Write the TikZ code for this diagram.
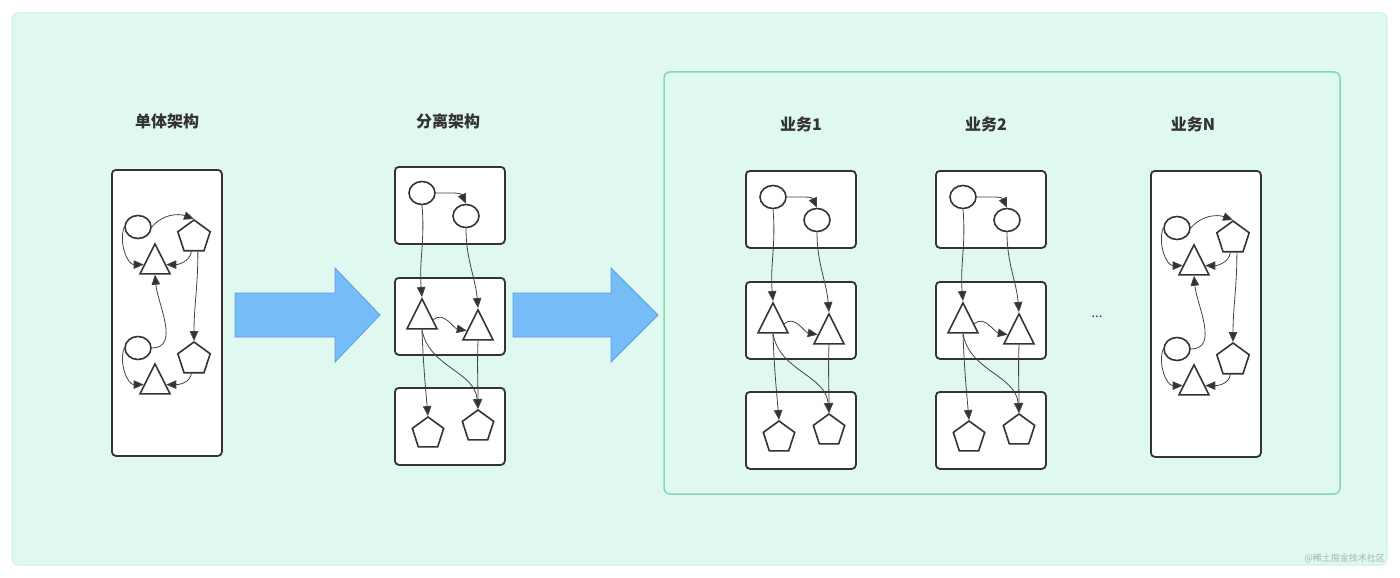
\documentclass[tikz,border=0pt]{standalone}
\usepackage{fontspec}
\newfontfamily\cjk{Noto Sans CJK SC}
\usetikzlibrary{shapes.geometric,arrows.meta}
\definecolor{bgfill}{HTML}{DFF8F0}
\definecolor{bgline}{HTML}{CDF1E3}
\definecolor{grn}{HTML}{86D6AE}
\definecolor{ink}{HTML}{333333}
\definecolor{linec}{HTML}{444444}
\definecolor{bluef}{HTML}{76BCF6}
\definecolor{blued}{HTML}{5A9FE6}
\definecolor{wm}{HTML}{A9B3AF}
\tikzset{
  box/.style={draw=ink, line width=1.8pt, rounded corners=4pt, fill=white, inner sep=0pt, anchor=north west},
  ell/.style={draw=ink, line width=1.6pt, ellipse, minimum width=26pt, minimum height=23pt, inner sep=0pt},
  tri/.style={draw=ink, line width=1.6pt, isosceles triangle, isosceles triangle apex angle=50,
              isosceles triangle stretches, shape border rotate=90, minimum width=30pt, minimum height=30pt,
              inner sep=0pt, anchor=apex},
  pent/.style={draw=ink, line width=1.6pt, regular polygon, regular polygon sides=5, minimum size=34pt,
               inner sep=0pt, anchor=corner 1},
  conn/.style={draw=linec, line width=0.8pt, -{Triangle[length=10pt,width=8.5pt,fill=ink]}},
  lbl/.style={text=ink, font=\cjk\bfseries\fontsize{16}{18}\selectfont, inner sep=0pt},
  mono/.pic={
    \node[box, minimum width=110pt, minimum height=286pt] (-box) at (0,0) {};
    \node[ell] (-c1) at (27,58) {};
    \node[pent] (-p1) at (83,50) {};
    \node[tri] (-t1) at (44,73) {};
    \node[ell] (-c2) at (27,179) {};
    \node[pent] (-p2) at (83,172) {};
    \node[tri] (-t2) at (44,193) {};
    \draw[conn] (-c1.east) to[out=50,in=160] (-p1.corner 1);
    \draw[conn] (-c1.west) to[out=-110,in=180] (-t1.west);
    \draw[conn] (-p1.-100) to[out=-100,in=0] (-t1.east);
    \draw[conn] (-p1.-75) to[out=-90,in=90] (-p2.corner 1);
    \draw[conn] (-c2.east) to[out=0,in=-85] (-t1.south);
    \draw[conn] (-c2.west) to[out=-110,in=180] (-t2.west);
    \draw[conn] (-p2.-100) to[out=-100,in=0] (-t2.east);
  },
  sep/.pic={
    \node[box, minimum width=110pt, minimum height=77pt] (-b1) at (0,0) {};
    \node[box, minimum width=110pt, minimum height=77pt] (-b2) at (0,111) {};
    \node[box, minimum width=110pt, minimum height=77pt] (-b3) at (0,221) {};
    \node[ell] (-c1) at (28,27) {};
    \node[ell] (-c2) at (72,50) {};
    \node[tri] (-t1) at (28,131) {};
    \node[tri] (-t2) at (84,142) {};
    \node[pent, minimum size=33pt] (-p1) at (34,250) {};
    \node[pent, minimum size=33pt] (-p2) at (84,243) {};
    \draw[conn] (-c1.east) to[out=0,in=115] (-c2.north);
    \draw[conn] (-c1.south) to[out=-85,in=95] (-t1.apex);
    \draw[conn] (-c2.south) to[out=-90,in=95] (-t2.apex);
    \draw[conn] (-t1.east) to[out=40,in=170] (-t2.west);
    \draw[conn] (-t1.south) to[out=-88,in=95] (-p1.corner 1);
    \draw[conn] (-t1.south) to[out=-80,in=95] (-p2.corner 1);
    \draw[conn] (-t2.south) to[out=-92,in=90] (-p2.corner 1);
  }
}
\begin{document}
\begin{tikzpicture}[x=1pt,y=-1pt]
  \useasboundingbox (0,0) rectangle (1400,578);
  \fill[white] (0,0) rectangle (1400,578);
  \draw[fill=bgfill, draw=bgline, line width=1pt, rounded corners=6pt] (12,13) rectangle (1387,565);
  \draw[draw=grn, line width=1.5pt, rounded corners=6pt] (664,72) rectangle (1340,494);

  \node[lbl] (l1) at (167,121) {单体架构};
  \node[lbl] (l2) at (448,121) {分离架构};
  \node[lbl] (l3) at (801,124) {业务1};
  \node[lbl] (l4) at (986,124) {业务2};
  \node[lbl] (l5) at (1193,124) {业务N};

  \pic (m1) at (111,169) {mono};
  \pic (s1) at (394,166) {sep};
  \pic (s2) at (745,170) {sep};
  \pic (s3) at (935,170) {sep};
  \pic (m2) at (1150,170) {mono};

  \draw[fill=bluef, draw=blued, line width=0.8pt]
    (235,293) -- (335,293) -- (335,268) -- (380,315) -- (335,362) -- (335,337) -- (235,337) -- cycle;
  \draw[fill=bluef, draw=blued, line width=0.8pt]
    (513,293) -- (611,293) -- (611,268) -- (658,315) -- (611,362) -- (611,337) -- (513,337) -- cycle;

  \node[text=ink, font=\cjk\fontsize{13}{14}\selectfont, inner sep=0pt] (dots) at (1097,317) {...};
  \node[text=wm, font=\cjk\fontsize{9}{10}\selectfont, inner sep=0pt, anchor=east] (wmk) at (1385,558) {@稀土掘金技术社区};
\end{tikzpicture}
\end{document}
